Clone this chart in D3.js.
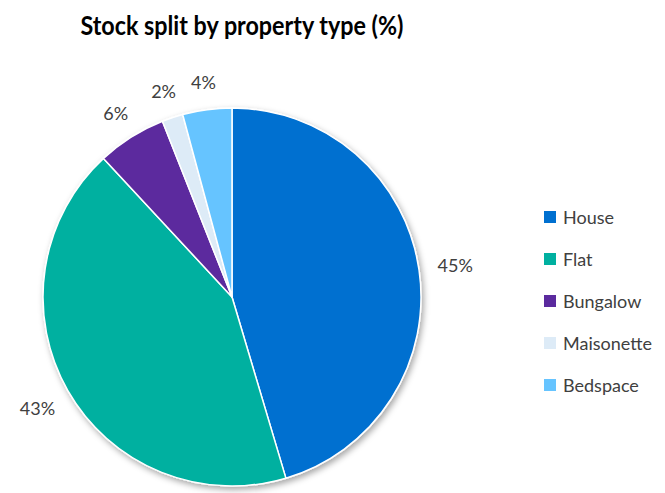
<!DOCTYPE html>
<html>
<head>
<meta charset="utf-8">
<script src="https://cdn.jsdelivr.net/npm/d3@7"></script>
<style>
  html, body { margin: 0; padding: 0; background: #ffffff; }
  svg { display: block; }
</style>
</head>
<body>
<svg id="chart" width="665" height="493"></svg>
<script>
const title = "Stock split by property type (%)";
const categories = ["House", "Flat", "Bungalow", "Maisonette", "Bedspace"];
const values = [45.4, 42.7, 5.9, 1.8, 4.2];
const labels = ["45%", "43%", "6%", "2%", "4%"];
const colors = ["#0070D0", "#00B0A0", "#5B2A9E", "#DDEBF7", "#66C4FF"];

const svg = d3.select("#chart");
const cx = 232, cy = 297, r = 189;
const font = "Lato, 'Open Sans', sans-serif";

// Title
svg.append("text")
  .attr("x", 242).attr("y", 35)
  .attr("text-anchor", "middle")
  .attr("font-family", font)
  .attr("font-weight", "bold")
  .attr("font-size", 27.5)
  .attr("textLength", 323)
  .attr("lengthAdjust", "spacingAndGlyphs")
  .attr("fill", "#000")
  .text(title);

// shadow filter
const defs = svg.append("defs");
const f = defs.append("filter").attr("id", "shadow")
  .attr("x", "-20%").attr("y", "-20%").attr("width", "140%").attr("height", "140%");
f.append("feDropShadow").attr("dx", 2).attr("dy", 3).attr("stdDeviation", 3)
  .attr("flood-color", "#000").attr("flood-opacity", 0.35);

const data = categories.map((c, i) => ({ cat: c, value: values[i], label: labels[i], color: colors[i] }));
const pie = d3.pie().value(d => d.value).sort(null);
const arcs = pie(data);
const arc = d3.arc().innerRadius(0).outerRadius(r);

const g = svg.append("g").attr("transform", `translate(${cx},${cy})`);
const slices = g.append("g").attr("filter", "url(#shadow)");
slices.selectAll("path").data(arcs).join("path")
  .attr("d", arc)
  .attr("fill", d => d.data.color)
  .attr("stroke", "#ffffff")
  .attr("stroke-width", 1.5)
  .attr("stroke-linejoin", "round");

// Outside end labels
const gap = 19;
g.selectAll("text.lbl").data(arcs).join("text")
  .attr("class", "lbl")
  .attr("font-family", font)
  .attr("font-size", 18)
  .attr("fill", "#404040")
  .attr("text-anchor", "middle")
  .attr("dominant-baseline", "central")
  .text(d => d.data.label)
  .each(function(d) {
    const bb = this.getBBox();
    const a = (d.startAngle + d.endAngle) / 2;
    const sx = Math.sin(a), cyy = -Math.cos(a);
    const off = Math.sqrt(Math.pow(bb.width / 2 * sx, 2) + Math.pow(bb.height / 2 * 0.8 * cyy, 2));
    const R = r + gap + off;
    d3.select(this).attr("x", R * sx).attr("y", R * cyy);
  });

// Legend
const legend = svg.append("g").attr("transform", "translate(544,217)");
const rows = legend.selectAll("g").data(data).join("g")
  .attr("transform", (d, i) => `translate(0,${i * 42})`);
rows.append("rect")
  .attr("x", 0).attr("y", -6).attr("width", 12).attr("height", 12)
  .attr("fill", d => d.color);
rows.append("text")
  .attr("x", 19).attr("y", 0)
  .attr("dominant-baseline", "central")
  .attr("font-family", font)
  .attr("font-size", 18)
  .attr("fill", "#404040")
  .text(d => d.cat);
</script>
</body>
</html>
